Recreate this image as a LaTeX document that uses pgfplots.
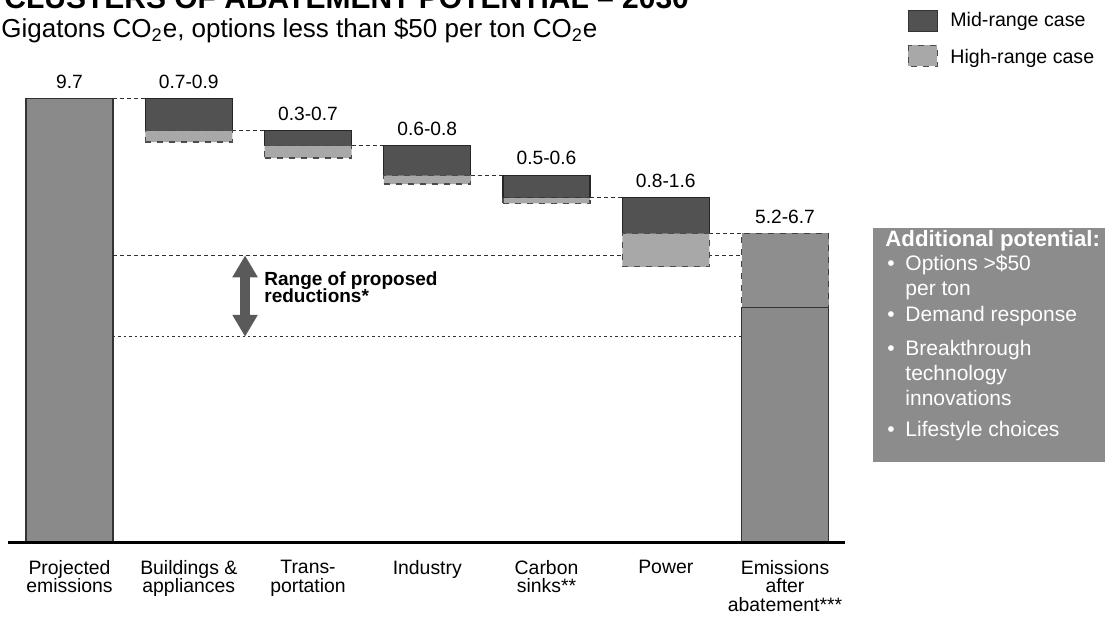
\documentclass[border=0pt]{standalone}
\usepackage{fontspec}
\setmainfont{Liberation Sans}
\usepackage{pgfplots}
\pgfplotsset{compat=1.18}
\usetikzlibrary{arrows.meta}

\definecolor{projgray}{HTML}{8A8A8A}
\definecolor{midgray}{HTML}{525252}
\definecolor{highgray}{HTML}{A8A8A8}
\definecolor{emgray}{HTML}{8E8E8E}
\definecolor{boxgray}{HTML}{8C8C8C}
\definecolor{linegray}{HTML}{303030}
\definecolor{arrowgray}{HTML}{5A5A5A}

\tikzset{
  conn/.style={linegray, line width=0.5pt, dash pattern=on 2pt off 1.5pt},
  vlab/.style={anchor=base, inner sep=0, yshift=5.2pt, font=\fontsize{9.6}{11}\selectfont},
  boxt/.style={anchor=base west, inner sep=0, text=white, font=\fontsize{10.5}{12}\selectfont},
}

\begin{document}
\begin{tikzpicture}
\begin{scope}[x=0.5pt,y=-0.5pt]
\useasboundingbox (0,0) rectangle (1111,623);
% clipped title and subtitle
\node[anchor=base west, inner sep=0, font=\bfseries\fontsize{15}{17}\selectfont] at (4,8) {CLUSTERS OF ABATEMENT POTENTIAL -- 2030};
\node[anchor=base west, inner sep=0, font=\fontsize{13}{16}\selectfont] at (1,37) {Gigatons CO\textsubscript{2}e, options less than \$50 per ton CO\textsubscript{2}e};
% legend
\draw[black!80, line width=0.5pt, fill=midgray] (908,10) rectangle (937,31);
\node[anchor=base west, inner sep=0, font=\fontsize{9.8}{12}\selectfont] at (950,26.7) {Mid-range case};
\draw[black!70, dashed, line width=0.5pt, fill=highgray] (908,45) rectangle (937,66);
\node[anchor=base west, inner sep=0, font=\fontsize{9.8}{12}\selectfont] at (950,63.3) {High-range case};
% additional potential box
\fill[boxgray] (873,228) rectangle (1105,462);
\node[boxt, font=\bfseries\fontsize{11.1}{12}\selectfont] at (885,246.7) {Additional potential:};
\node[boxt] at (887,270.7) {•}; \node[boxt] at (905,270.7) {Options >\$50};
\node[boxt] at (905,295) {per ton};
\node[boxt] at (887,321.7) {•}; \node[boxt] at (905,321.7) {Demand response};
\node[boxt] at (887,355) {•}; \node[boxt] at (905,355) {Breakthrough};
\node[boxt] at (905,380) {technology};
\node[boxt] at (905,405.7) {innovations};
\node[boxt] at (887,436) {•}; \node[boxt] at (905,436) {Lifestyle choices};
% range text
\node[anchor=base west, inner sep=0, font=\bfseries\fontsize{9.5}{11}\selectfont] at (264,285) {Range of proposed};
\node[anchor=base west, inner sep=0, font=\bfseries\fontsize{9.5}{11}\selectfont] at (264,302) {reductions*};
\end{scope}

\begin{axis}[
  at={(4pt,-271pt)}, anchor=south west,
  scale only axis, width=418.5pt, height=240pt,
  xmin=-0.516, xmax=6.503, ymin=0, ymax=10.5,
  ybar stacked, bar width=43.5pt,
  axis x line=bottom, axis y line=none,
  x axis line style={line width=1.5pt, -},
  xtick={0,1,2,3,4,5,6}, major tick length=0pt,
  xticklabels={{Projected\\emissions},{Buildings \&\\appliances},{Trans-\\portation},{Industry},{Carbon\\sinks**},{Power},{Emissions\\after\\abatement***}},
  xticklabel style={align=center, font=\fontsize{9.7}{9.3}\selectfont, inner sep=0pt, anchor=north, yshift=-8.9pt},
  ytick=\empty,
  axis on top, clip=false,
]
% solid bars (projected, emissions after abatement)
\addplot[fill=projgray, draw=black!80, line width=0.6pt] coordinates {(0,9.7) (1,0) (2,0) (3,0) (4,0) (5,0) (6,5.13)};
% invisible base of floating bars
\addplot[draw=none, fill=none] coordinates {(0,0) (1,8.75) (2,8.40) (3,7.83) (4,7.41) (5,6.02) (6,0)};
% high-range part
\addplot[fill=highgray, draw=black!70, dashed, line width=0.6pt] coordinates {(0,0) (1,0.25) (2,0.27) (3,0.19) (4,0.12) (5,0.73) (6,0)};
% mid-range part
\addplot[fill=midgray, draw=black!85, line width=0.6pt] coordinates {(0,0) (1,0.70) (2,0.33) (3,0.65) (4,0.49) (5,0.78) (6,0)};
% upper part of emissions after abatement
\addplot[fill=emgray, draw=black!75, dashed, line width=0.6pt] coordinates {(0,0) (1,0) (2,0) (3,0) (4,0) (5,0) (6,1.62)};

% connectors
\draw[conn] (axis cs:0.365,9.7) -- (axis cs:0.635,9.7);
\draw[conn] (axis cs:1.365,9.0) -- (axis cs:1.635,9.0);
\draw[conn] (axis cs:2.365,8.67) -- (axis cs:2.635,8.67);
\draw[conn] (axis cs:3.365,8.02) -- (axis cs:3.635,8.02);
\draw[conn] (axis cs:4.365,7.53) -- (axis cs:4.635,7.53);
\draw[conn] (axis cs:5.365,6.75) -- (axis cs:5.635,6.75);
\draw[conn] (axis cs:0.365,6.27) -- (axis cs:5.635,6.27);
\draw[linegray, line width=0.5pt, dash pattern=on 1.2pt off 1.5pt] (axis cs:0.365,4.49) -- (axis cs:5.635,4.49);
% range arrow
\draw[arrowgray, line width=4.6pt, {Triangle[width=12pt,length=11pt]}-{Triangle[width=12pt,length=11pt]}] (axis cs:1.472,6.27) -- (axis cs:1.472,4.49);
% value labels
\node[vlab] at (axis cs:0,9.7) {9.7};
\node[vlab] at (axis cs:1,9.7) {0.7-0.9};
\node[vlab] at (axis cs:2,9.0) {0.3-0.7};
\node[vlab] at (axis cs:3,8.67) {0.6-0.8};
\node[vlab] at (axis cs:4,8.02) {0.5-0.6};
\node[vlab] at (axis cs:5,7.53) {0.8-1.6};
\node[vlab] at (axis cs:6,6.75) {5.2-6.7};
\end{axis}
\end{tikzpicture}
\end{document}
